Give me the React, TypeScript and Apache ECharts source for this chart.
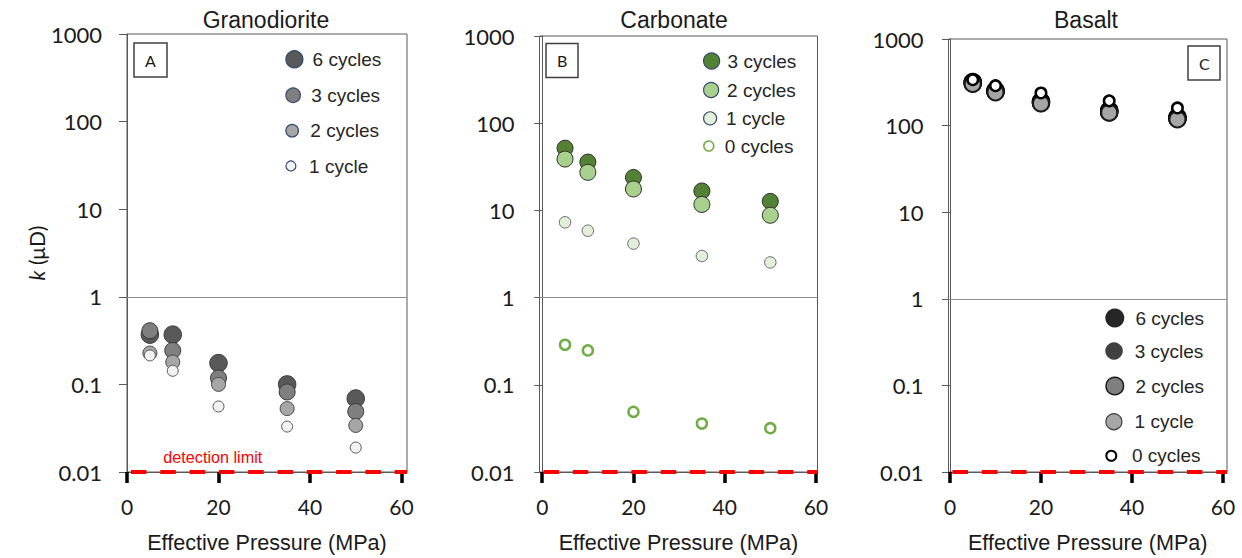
import React, { useEffect, useRef } from 'react';
import * as echarts from 'echarts';

// ---------- data ----------
const PRESSURE = [5, 10, 20, 35, 50];
const X_TICKS = [0, 20, 40, 60];
const Y_MIN = 0.01;
const Y_MAX = 1000;
const DETECTION_LIMIT = 0.01;
const PERMEABILITY_LINE = 1;

const PANEL_TITLES = ['Granodiorite', 'Carbonate', 'Basalt'];
const PANEL_LETTERS = ['A', 'B', 'C'];
const X_NAME = 'Effective Pressure (MPa)';
const Y_NAME = '{i|k} (μD)';
const DETECTION_TEXT = 'detection limit';

// Granodiorite (A)
const GRANO_6 = [0.37, 0.37, 0.175, 0.1, 0.069];
const GRANO_3 = [0.41, 0.244, 0.118, 0.082, 0.049];
const GRANO_2 = [0.228, 0.18, 0.1, 0.053, 0.034];
const GRANO_1 = [0.214, 0.143, 0.056, 0.033, 0.019];

// Carbonate (B)
const CARB_3 = [51.7, 35.8, 23.9, 16.7, 12.7];
const CARB_2 = [38.8, 27.3, 17.6, 11.7, 8.8];
const CARB_1 = [7.3, 5.85, 4.16, 3.0, 2.53];
const CARB_0 = [0.288, 0.248, 0.049, 0.036, 0.0318];

// Basalt (C)
const BAS_6 = [318, 255, 190, 149, 125];
const BAS_3 = [312, 250, 186, 146, 122];
const BAS_2 = [308, 246, 183, 143, 120];
const BAS_1 = [302, 242, 180, 141, 118];
const BAS_0 = [339, 289, 238, 193, 160];

// ---------- styles / layout ----------
const FONT_ARIAL = '"Liberation Sans", Arial, sans-serif';
const FONT_CAL = 'Lato, "Open Sans", sans-serif';
const TEXT = '#1a1a1a';
const AXIS = '#595959';

type S = {
  label: string; data: number[]; fill: string; border: string; bw: number; size: number;
  lg: { cy: number; d: number; border: string; bw: number };
};
type P = {
  grid: { left: number; top: number; width: number; height: number };
  xMin: number; xMax: number; titleX: number;
  letter: { left: number; top: number };
  legendCx: number; legendTextX: number;
  series: S[];
};

const NAVY = '#33486e';

const PANELS: P[] = [
  {
    grid: { left: 127, top: 34, width: 280, height: 438 },
    xMin: 0, xMax: 61.2, titleX: 266,
    letter: { left: 134, top: 43 },
    legendCx: 298.5, legendTextX: 316.7,
    series: [
      { label: '6 cycles', data: GRANO_6, fill: '#595959', border: '#3a3a3a', bw: 1, size: 17.5, lg: { cy: 59.3, d: 17, border: NAVY, bw: 1.2 } },
      { label: '3 cycles', data: GRANO_3, fill: '#7f7f7f', border: '#3a3a3a', bw: 1, size: 16, lg: { cy: 95.3, d: 14.5, border: NAVY, bw: 1.2 } },
      { label: '2 cycles', data: GRANO_2, fill: '#a6a6a6', border: '#4a4a4a', bw: 1, size: 14, lg: { cy: 130.7, d: 12.5, border: NAVY, bw: 1.2 } },
      { label: '1 cycle', data: GRANO_1, fill: '#f2f2f2', border: '#595959', bw: 1, size: 11, lg: { cy: 166, d: 10, border: NAVY, bw: 1.2 } },
    ],
  },
  {
    grid: { left: 539.5, top: 36, width: 278, height: 438 },
    xMin: -0.6, xMax: 60.35, titleX: 674,
    letter: { left: 546, top: 43.5 },
    legendCx: 714, legendTextX: 730,
    series: [
      { label: '3 cycles', data: CARB_3, fill: '#548235', border: '#2d2d2d', bw: 1, size: 16, lg: { cy: 61, d: 16, border: NAVY, bw: 1.2 } },
      { label: '2 cycles', data: CARB_2, fill: '#a9d18e', border: '#2d2d2d', bw: 1, size: 16, lg: { cy: 90, d: 15, border: NAVY, bw: 1.2 } },
      { label: '1 cycle', data: CARB_1, fill: '#e2f0d9', border: '#6a6a6a', bw: 1, size: 11.5, lg: { cy: 118.3, d: 13, border: NAVY, bw: 1.2 } },
      { label: '0 cycles', data: CARB_0, fill: '#ffffff', border: '#70ad47', bw: 2.5, size: 10, lg: { cy: 146, d: 10, border: '#70ad47', bw: 1.6 } },
    ],
  },
  {
    grid: { left: 948.5, top: 39, width: 278.5, height: 436 },
    xMin: -0.33, xMax: 60.9, titleX: 1086,
    letter: { left: 1188, top: 46 },
    legendCx: 1121, legendTextX: 1141.7,
    series: [
      { label: '6 cycles', data: BAS_6, fill: '#262626', border: '#000000', bw: 1.5, size: 17, lg: { cy: 318, d: 19, border: '#262626', bw: 0 } },
      { label: '3 cycles', data: BAS_3, fill: '#404040', border: '#000000', bw: 1.5, size: 17, lg: { cy: 351, d: 17.5, border: '#404040', bw: 0 } },
      { label: '2 cycles', data: BAS_2, fill: '#7f7f7f', border: '#000000', bw: 1.5, size: 17, lg: { cy: 386, d: 17.5, border: '#1a1a1a', bw: 1.5 } },
      { label: '1 cycle', data: BAS_1, fill: '#a6a6a6', border: '#1a1a1a', bw: 2, size: 16, lg: { cy: 421.7, d: 16, border: '#404040', bw: 1.2 } },
      { label: '0 cycles', data: BAS_0, fill: '#ffffff', border: '#000000', bw: 2.5, size: 10.5, lg: { cy: 455.7, d: 10, border: '#000000', bw: 2 } },
    ],
  },
];

const fmtY = (v: number) => String(Number(v.toPrecision(6)));

function buildOption() {
  const grid: any[] = [];
  const xAxis: any[] = [];
  const yAxis: any[] = [];
  const series: any[] = [];
  const legend: any[] = [];
  const title: any[] = [];
  const graphic: any[] = [];

  PANELS.forEach((p, pi) => {
    grid.push({ ...p.grid, show: true, borderColor: AXIS, borderWidth: 1, backgroundColor: 'transparent' });

    xAxis.push({
      type: 'value', gridIndex: pi, min: p.xMin, max: p.xMax,
      axisLine: { show: true, onZero: false, lineStyle: { color: AXIS, width: 1 } },
      axisTick: { show: true, length: 11, customValues: X_TICKS, lineStyle: { color: '#000', width: 3.5 } },
      axisLabel: { customValues: X_TICKS, fontSize: 21, fontFamily: FONT_CAL, color: TEXT, margin: 24 },
      splitLine: { show: false },
      name: X_NAME, nameLocation: 'middle', nameGap: 59,
      nameTextStyle: { fontSize: 21.6, fontFamily: FONT_ARIAL, color: TEXT },
    });

    yAxis.push({
      type: 'log', logBase: 10, gridIndex: pi, min: Y_MIN, max: Y_MAX,
      axisLine: { show: true, lineStyle: { color: AXIS, width: 1 } },
      axisTick: { show: true, length: 8, lineStyle: { color: AXIS, width: 1 } },
      axisLabel: { fontSize: 22, fontFamily: FONT_CAL, color: TEXT, margin: 25, formatter: fmtY },
      splitLine: { show: false },
      minorTick: { show: false },
      ...(pi === 0
        ? {
            name: Y_NAME, nameLocation: 'middle', nameGap: 79,
            nameTextStyle: {
              fontSize: 21, fontFamily: FONT_CAL, color: TEXT,
              rich: { i: { fontStyle: 'italic', fontSize: 21, fontFamily: FONT_CAL, color: TEXT } },
            },
          }
        : {}),
    });

    p.series.forEach((s, si) => {
      const name = `${PANEL_LETTERS[pi]}|${s.label}`;
      const ser: any = {
        type: 'scatter', name, xAxisIndex: pi, yAxisIndex: pi,
        data: PRESSURE.map((x, i) => [x, s.data[i]]),
        symbol: 'circle', symbolSize: s.size,
        itemStyle: { color: s.fill, borderColor: s.border, borderWidth: s.bw, opacity: 1 },
        emphasis: { disabled: true }, silent: true, clip: false, z: 3 + si,
      };
      if (si === 0) {
        ser.markLine = {
          silent: true, symbol: ['none', 'none'], label: { show: false }, z: 2,
          emphasis: { disabled: true },
          data: [
            { yAxis: PERMEABILITY_LINE, lineStyle: { color: '#8c8c8c', width: 1, type: 'solid' } },
            { yAxis: DETECTION_LIMIT, lineStyle: { color: '#ff0000', width: 4, type: [15.5, 13.8], dashOffset: -4 } },
          ],
        };
      }
      series.push(ser);

      const w = 2 * (p.legendTextX - 5 - p.legendCx);
      legend.push({
        data: [{ name, itemStyle: { color: s.fill, borderColor: s.lg.border, borderWidth: s.lg.bw } }],
        left: p.legendCx - w / 2,
        top: s.lg.cy - Math.max(s.lg.d, 20) / 2,
        itemWidth: w, itemHeight: s.lg.d, icon: 'circle', padding: 0, itemGap: 0,
        selectedMode: false,
        formatter: () => s.label,
        textStyle: { fontSize: 19, fontFamily: FONT_ARIAL, color: '#262626', lineHeight: 20 },
      });
    });

    title.push({
      text: PANEL_LETTERS[pi], left: p.letter.left, top: p.letter.top,
      padding: [8, 11], borderColor: '#404040', borderWidth: 1.5,
      textStyle: { fontSize: 16, fontFamily: FONT_CAL, fontWeight: 'normal', color: TEXT, lineHeight: 18 },
    });

    graphic.push({
      type: 'text', x: p.titleX, y: 20, silent: true,
      style: {
        text: PANEL_TITLES[pi], fontSize: 23, fontFamily: FONT_ARIAL, fill: TEXT,
        align: 'center', verticalAlign: 'middle', textAlign: 'center', textVerticalAlign: 'middle',
      },
    });
  });

  graphic.push({
    type: 'text', x: 163.3, y: 457, silent: true,
    style: {
      text: DETECTION_TEXT, fontSize: 16.2, fontFamily: FONT_ARIAL, fill: '#ff0000',
      align: 'left', verticalAlign: 'middle', textAlign: 'left', textVerticalAlign: 'middle',
    },
  });

  return {
    animation: false,
    backgroundColor: '#ffffff',
    grid, xAxis, yAxis, series, legend, title, graphic,
  };
}

export default function App() {
  const ref = useRef<HTMLDivElement>(null);
  useEffect(() => {
    if (!ref.current) return;
    const chart = echarts.init(ref.current, undefined, { renderer: 'svg' });
    chart.setOption(buildOption() as any);
    return () => chart.dispose();
  }, []);
  return (
    <div
      ref={ref}
      style={{ position: 'fixed', left: 0, top: 0, width: 1242, height: 558, background: '#fff' }}
    />
  );
}
